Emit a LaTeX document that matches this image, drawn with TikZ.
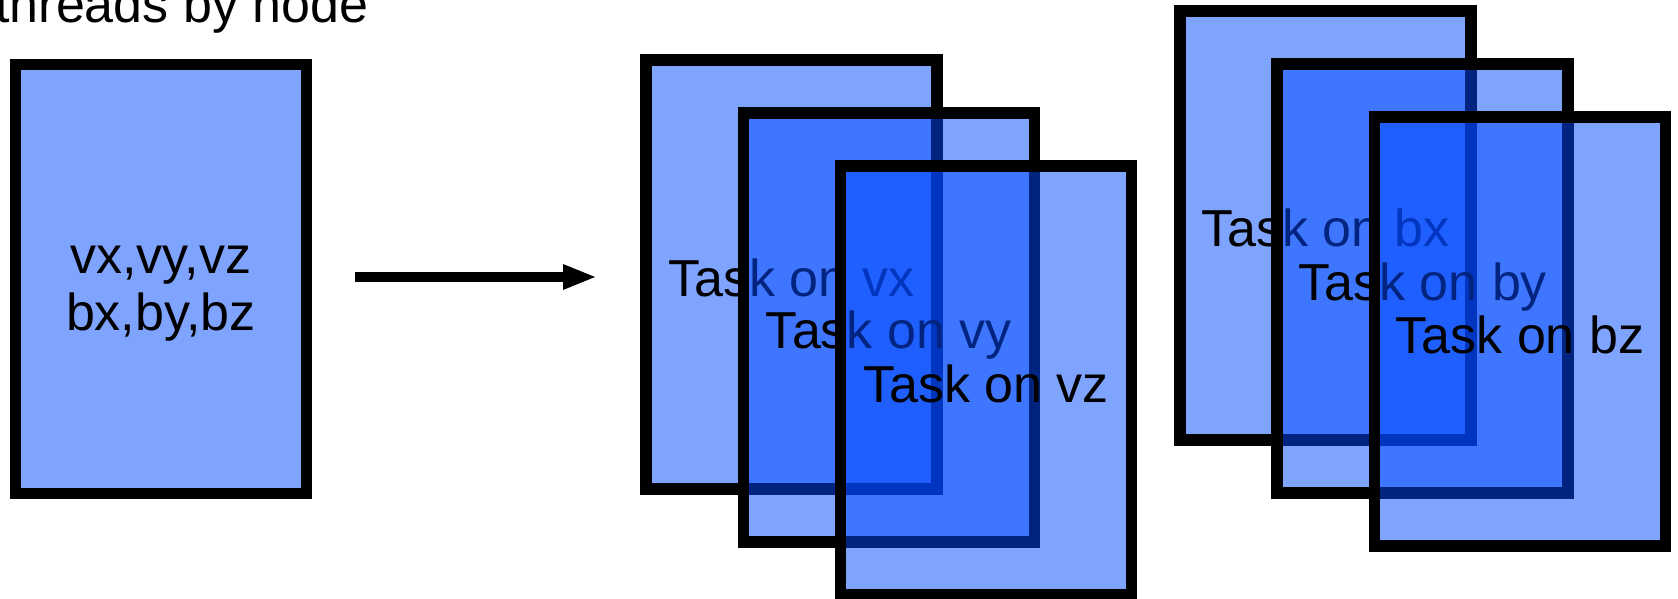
\documentclass[tikz,border=0pt]{standalone}
\usepackage{fontspec}
\setmainfont{Liberation Sans}
\usetikzlibrary{arrows.meta}
\definecolor{taskblue}{RGB}{0,73,255}
\begin{document}
\begin{tikzpicture}[x=0.5pt,y=-0.5pt,
  panel/.style={draw=black, line width=5.75pt, fill=taskblue, fill opacity=0.5,
    draw opacity=1, text opacity=1, minimum width=145.5pt, minimum height=214.5pt,
    inner sep=0pt, align=center, text height=24pt, text depth=2.5pt,
    font=\fontsize{26pt}{28.5pt}\selectfont},
  label text/.style={font=\fontsize{26pt}{28.5pt}\selectfont, inner sep=0pt},
  flow/.style={line width=5.3pt, -{Triangle[length=17pt,width=11.5pt]}}
  ]
\useasboundingbox (0,0) rectangle (1678,599);
\node[label text, anchor=base west] (title) at (-5,23) {threads by node};
\node[panel] (lbox) at (160.9,278.8) {};
\node[label text, align=center] (lbl) at (160.9,293.5) {vx,vy,vz\\bx,by,bz};
\coordinate (a0) at (355,277);
\coordinate (a1) at (597,277);
\draw[flow] (a0) -- (a1);
\node[panel] (m1) at (791.5,274.5) {Task on vx};
\node[panel] (m2) at (888.8,327.5) {Task on vy};
\node[panel] (m3) at (986,380.5) {Task on vz};
\node[panel] (r1) at (1325.4,225.5) {Task on bx};
\node[panel] (r2) at (1422.7,278.5) {Task on by};
\node[panel] (r3) at (1520,331.5) {Task on bz};
\end{tikzpicture}
\end{document}
